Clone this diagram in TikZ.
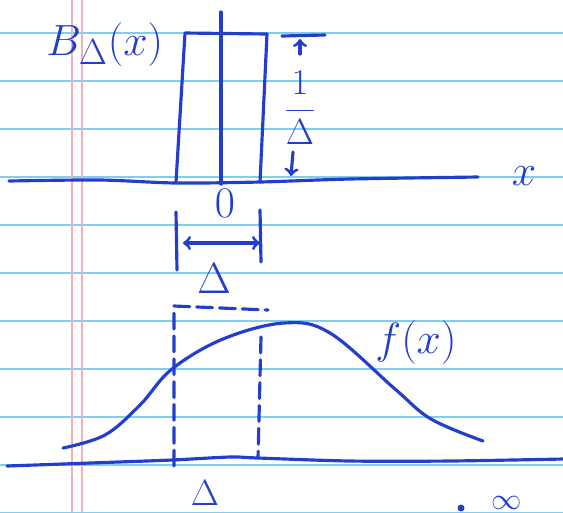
\documentclass[tikz,border=0pt]{standalone}
\usepackage{tikz}
\definecolor{ink}{RGB}{35,62,205}
\definecolor{rule}{RGB}{130,205,238}
\definecolor{margin}{RGB}{245,175,185}

\begin{document}
\begin{tikzpicture}[x=0.02cm,y=-0.02cm,
    pen/.style={draw=ink, line width=1.8pt, line cap=round, line join=round},
    lbl/.style={text=ink, inner sep=0pt}]
  \useasboundingbox (0,0) rectangle (563,512);
  \clip (0,0) rectangle (563,512);
  % paper
  \foreach \y in {33,81,...,513} \draw[rule, line width=1pt] (0,\y) -- (563,\y);
  \draw[margin, line width=0.7pt] (72,0) -- (72,512);
  \draw[margin, line width=0.7pt] (82,0) -- (82,512);

  % top: the box B
  \draw[pen] plot[smooth] coordinates {(9,181) (100,180) (176,183) (260,182) (350,179) (478,177)};
  \draw[pen] (176,182) -- (185,33) -- (267,34) -- (260,182);
  \draw[pen] (221,12) -- (221,184);
  \node[lbl, anchor=base west] (bname) at (46,55) {\fontsize{32}{34}\selectfont $B_{\Delta}(x)$};
  \node[lbl] (xaxis) at (524,176) {\fontsize{34}{36}\selectfont $x$};
  \node[lbl] (origin) at (225,203) {\fontsize{28}{30}\selectfont $0$};
  % height 1/Delta
  \coordinate (htop) at (282,36);
  \coordinate (htopr) at (325,35);
  \draw[pen] (htop) -- (htopr);
  \node[lbl] (height) at (300,108) {\fontsize{22}{24}\selectfont $\displaystyle\frac{1}{\Delta}$};
  \draw[pen, ->] (300,54) -- (300,39);
  \draw[pen, ->] (293,152) -- (291,176);
  % width Delta
  \coordinate (wl) at (176,212);
  \coordinate (wr) at (260,210);
  \draw[pen] (wl) -- (177,270);
  \draw[pen] (wr) -- (261,262);
  \draw[pen, <->] (183,243) -- (260,243);
  \node[lbl] (width) at (214,279) {\fontsize{24}{26}\selectfont $\Delta$};

  % bottom: f(x) and a slice
  \draw[pen] plot[smooth] coordinates {(7,466) (90,463) (172,460) (230,457) (258,458) (350,461) (450,461) (563,459)};
  \draw[pen, dash pattern=on 9pt off 4pt] (174,466) -- (174,306) -- (268,310);
  \draw[pen, dash pattern=on 9pt off 4pt] (261,337) -- (258,458);
  \draw[pen] plot[smooth, tension=0.6] coordinates {(63,448) (105,435) (140,405) (172,369) (223,339) (284,323) (330,333) (395,389) (431,419) (483,441)};
  \node[lbl] (fname) at (416,343) {\fontsize{28}{30}\selectfont $f(x)$};
  \node[lbl, anchor=base] (slice) at (205,505) {\fontsize{22}{24}\selectfont $\Delta$};
  \fill[ink] (461,508) circle (3.5);
  \node[lbl] (inf) at (507,503) {\fontsize{18}{20}\selectfont $\infty$};
\end{tikzpicture}
\end{document}
